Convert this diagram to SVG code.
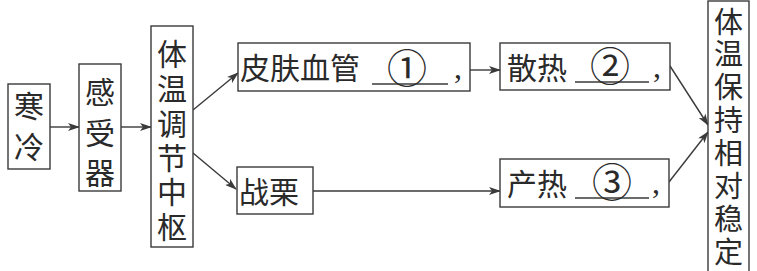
<svg xmlns="http://www.w3.org/2000/svg" width="757" height="271" viewBox="0 0 757 271">
<style>
.box{fill:#fff;stroke:#3a3a3a;stroke-width:1.4}
.t{font-family:"Noto Sans CJK SC","Noto Sans",sans-serif;font-size:30px;fill:#2a2a2a;dominant-baseline:central}
.v{text-anchor:middle}
.r{font-size:29px}
.circ{font-family:"Noto Sans CJK SC","DejaVu Sans",sans-serif;font-size:40px;fill:#2a2a2a;dominant-baseline:central;text-anchor:middle}
.num{font-family:"Liberation Serif","DejaVu Serif",serif;font-size:32px;fill:#2a2a2a;dominant-baseline:central;text-anchor:middle}
.ul{stroke:#3a3a3a;stroke-width:1.3}
.c{stroke:#3a3a3a;stroke-width:1.4;fill:none;marker-end:url(#ah)}
</style>
<defs>
<marker id="ah" markerWidth="12" markerHeight="8" refX="11" refY="4" orient="auto" markerUnits="userSpaceOnUse">
<path d="M0,0 L12,4 L0,8 L3,4 z" fill="#3a3a3a"/>
</marker>
</defs>
<rect width="757" height="271" fill="#fff"/>
<g id="connectors">
<line class="c" x1="50" y1="127" x2="79" y2="127"/>
<line class="c" x1="121" y1="127" x2="151" y2="127"/>
<line class="c" x1="193" y1="110" x2="238" y2="73"/>
<line class="c" x1="193" y1="153" x2="236" y2="189"/>
<line class="c" x1="470" y1="70" x2="500" y2="70"/>
<line class="c" x1="313" y1="191" x2="500" y2="191"/>
<line class="c" x1="670" y1="66" x2="708" y2="125"/>
<line class="c" x1="669" y1="182" x2="708" y2="132"/>
</g>
<g id="cold">
<rect class="box" x="8" y="84" width="42" height="85"/>
<text class="t v"><tspan x="29" y="104">寒</tspan><tspan x="29" y="145">冷</tspan></text>
</g>
<g id="receptor">
<rect class="box" x="79" y="64" width="42" height="127"/>
<text class="t v"><tspan x="100" y="90">感</tspan><tspan x="100" y="131">受</tspan><tspan x="100" y="171">器</tspan></text>
</g>
<g id="center">
<rect class="box" x="151" y="26" width="42" height="221"/>
<text class="t v"><tspan x="172" y="52">体</tspan><tspan x="172" y="87">温</tspan><tspan x="172" y="122">调</tspan><tspan x="172" y="156">节</tspan><tspan x="172" y="190">中</tspan><tspan x="172" y="225">枢</tspan></text>
</g>
<g id="skin">
<rect class="box" x="238" y="43" width="232" height="48"/>
<text class="t" x="240" y="66">皮肤血管</text>
<line class="ul" x1="372" y1="84" x2="448" y2="84"/>
<text class="circ" x="407" y="66">①</text>
<text class="num" x="458" y="67">,</text>
</g>
<g id="shiver">
<rect class="box" x="237" y="167" width="76" height="47"/>
<text class="t" x="239" y="190">战栗</text>
</g>
<g id="dissipate">
<rect class="box" x="500" y="43" width="170" height="47"/>
<text class="t" x="507" y="66">散热</text>
<line class="ul" x1="575" y1="82" x2="649" y2="82"/>
<text class="circ" x="610" y="64">②</text>
<text class="num" x="657" y="66">,</text>
</g>
<g id="produce">
<rect class="box" x="500" y="159" width="169" height="48"/>
<text class="t" x="507" y="182">产热</text>
<line class="ul" x1="575" y1="198" x2="649" y2="198"/>
<text class="circ" x="612" y="180">③</text>
<text class="num" x="656" y="182">,</text>
</g>
<g id="stable">
<rect class="box" x="708" y="1" width="41" height="275"/>
<text class="t v r"><tspan x="728.5" y="20">体</tspan><tspan x="728.5" y="52">温</tspan><tspan x="728.5" y="85">保</tspan><tspan x="728.5" y="118">持</tspan><tspan x="728.5" y="151">相</tspan><tspan x="728.5" y="184">对</tspan><tspan x="728.5" y="217">稳</tspan><tspan x="728.5" y="250">定</tspan></text>
</g>
</svg>
